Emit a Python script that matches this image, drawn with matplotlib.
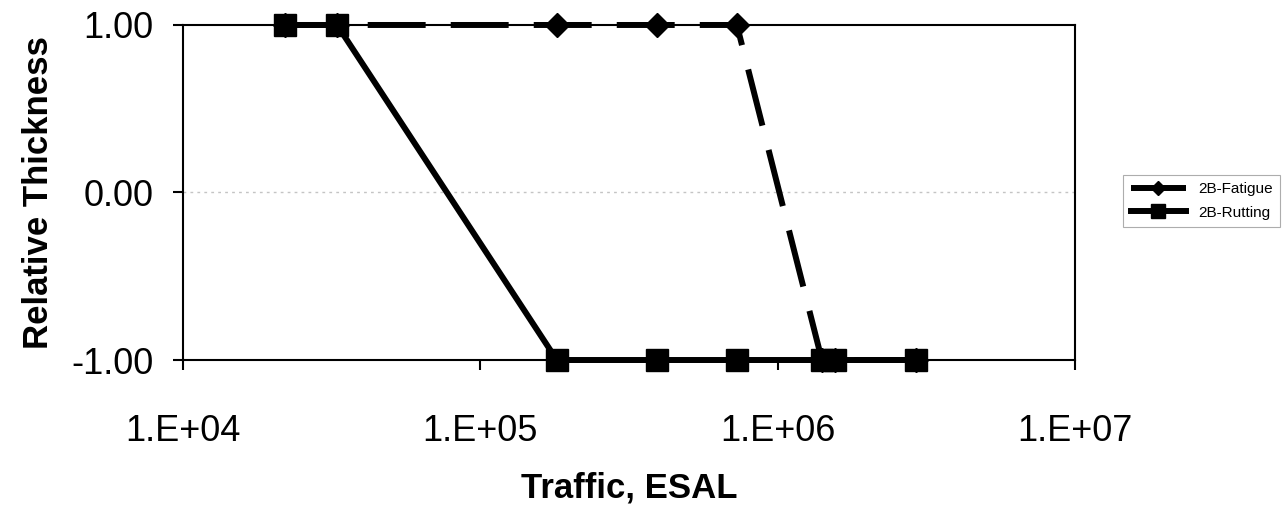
import numpy as np
import matplotlib.pyplot as plt

plt.rcParams['font.family'] = ['Liberation Sans', 'DejaVu Sans']

# Traffic (ESAL) and relative thickness for the two 2B criteria
traffic = [2.2e4, 3.3e4, 1.81e5, 3.93e5, 7.3e5, 1.41e6, 1.56e6, 2.92e6]
fatigue = [1, 1, 1, 1, 1, -1, -1, -1]
rutting = [1, 1, -1, -1, -1, -1, -1, -1]

x_ticks = [1e4, 1e5, 1e6, 1e7]
x_labels = ["1.E+04", "1.E+05", "1.E+06", "1.E+07"]
y_ticks = [-1, 0, 1]
y_labels = ["-1.00", "0.00", "1.00"]

fig = plt.figure(figsize=(12.88, 5.14), dpi=100)
ax = fig.add_axes([0.142, 0.2996, 0.6925, 0.6518])

ax.plot(traffic, fatigue, color="black", linewidth=4.3, dashes=(9.7, 4.2),
        marker="D", markersize=12, clip_on=False, label="2B-Fatigue", zorder=3)
ax.plot(traffic, rutting, color="black", linewidth=4.3,
        marker="s", markersize=16, clip_on=False, label="2B-Rutting", zorder=4)

ax.set_xscale("log")
ax.set_xlim(1e4, 1e7)
ax.set_ylim(-1, 1)
ax.set_xticks(x_ticks)
ax.set_xticklabels(x_labels)
ax.minorticks_off()
ax.set_yticks(y_ticks)
ax.set_yticklabels(y_labels)
ax.tick_params(axis="both", labelsize=26, length=7, width=1.5, direction="out")
ax.tick_params(axis="x", pad=32)
ax.tick_params(axis="y", pad=14)

# faint dotted gridline at zero
ax.axhline(0, color="#c4c4c4", linewidth=1, linestyle=(0, (2, 3)), zorder=1)

for s in ax.spines.values():
    s.set_linewidth(1.5)

ax.set_xlabel("Traffic, ESAL", fontsize=25, fontweight="bold", labelpad=16)
ax.set_ylabel("Relative Thickness", fontsize=25, fontweight="bold", labelpad=12)

leg = fig.legend(loc="center left", bbox_to_anchor=(0.866, 0.609),
                 fontsize=11, frameon=True, fancybox=False, handlelength=3.6,
                 markerscale=0.6, borderpad=0.5, labelspacing=0.6, handletextpad=0.8)
leg.get_frame().set_edgecolor("#999999")
leg.get_frame().set_linewidth(0.8)

fig.savefig("out.png", dpi=100)
